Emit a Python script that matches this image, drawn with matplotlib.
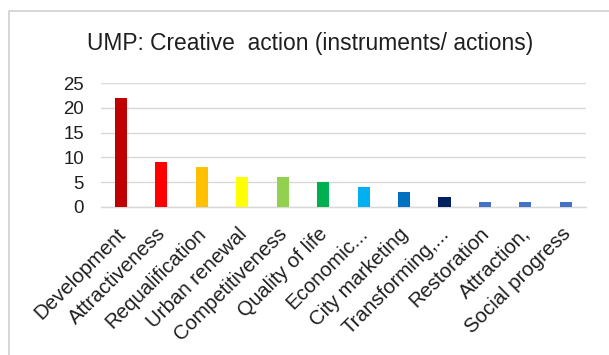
import matplotlib
matplotlib.use("Agg")
import matplotlib.pyplot as plt
from matplotlib.lines import Line2D
from matplotlib.transforms import ScaledTranslation

categories = [
    "Development", "Attractiveness", "Requalification", "Urban renewal",
    "Competitiveness", "Quality of life", "Economic...", "City marketing",
    "Transforming,...", "Restoration", "Attraction,", "Social progress",
]
values = [22, 9, 8, 6, 6, 5, 4, 3, 2, 1, 1, 1]
colors = [
    "#C00000", "#FF0000", "#FFC000", "#FFFF00", "#92D050", "#00B050",
    "#00B0F0", "#0070C0", "#002060", "#4472C4", "#4472C4", "#4472C4",
]
y_ticks = [0, 5, 10, 15, 20, 25]
title = "UMP: Creative  action (instruments/ actions)"

plt.rcParams["font.family"] = ["Liberation Sans", "DejaVu Sans"]
text_color = "#1f1f1f"
grid_color = "#D9D9D9"

W, H = 609, 355
fig = plt.figure(figsize=(W / 100, H / 100), dpi=100)
fig.patch.set_facecolor("white")

# plot area in pixel coordinates
left, right, top, bottom = 100.7, 586.0, 83.3, 206.7
ax = fig.add_axes([left / W, 1 - bottom / H, (right - left) / W, (bottom - top) / H])

x = range(len(categories))
ax.bar(x, values, width=0.3, color=colors, zorder=3)

ax.set_xlim(-0.5, len(categories) - 0.5)
ax.set_ylim(0, 25)
ax.set_yticks(y_ticks)
ax.set_yticklabels([str(v) for v in y_ticks], fontsize=13.4, color=text_color)
ax.yaxis.grid(True, color=grid_color, linewidth=1.0, zorder=0)
ax.tick_params(axis="y", length=0, pad=12)
ax.tick_params(axis="x", length=0, pad=12.5)

ax.set_xticks(list(x))
ax.set_xticklabels(categories, rotation=45, ha="right", va="top",
                   rotation_mode="anchor", fontsize=14.7, color=text_color)
shift = ScaledTranslation(-5 / 100, 0, fig.dpi_scale_trans)
for lbl in ax.get_xticklabels():
    lbl.set_transform(lbl.get_transform() + shift)

for side in ("top", "right", "left"):
    ax.spines[side].set_visible(False)
ax.spines["bottom"].set_color(grid_color)
ax.spines["bottom"].set_linewidth(1.0)
ax.set_facecolor("none")

fig.text(310 / W, 1 - 50 / H, title, ha="center", va="baseline",
         fontsize=16.4, color=text_color)

# chart frame: left and top edges
frame = Line2D([8.5 / W, 8.5 / W, 1.0], [0.0, 1 - 10.5 / H, 1 - 10.5 / H],
               transform=fig.transFigure, color="#D0D0D0", linewidth=1.2)
fig.add_artist(frame)

fig.savefig("out.png", dpi=100)
